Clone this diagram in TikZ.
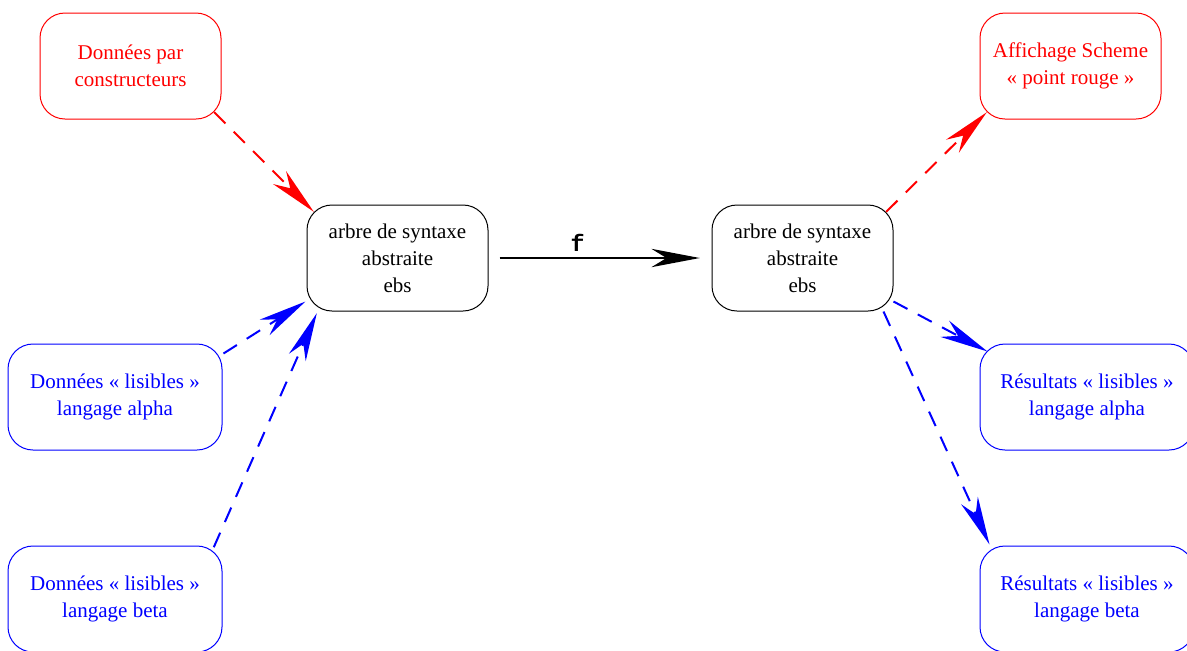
\documentclass[tikz,border=0pt]{standalone}
\usepackage{fontspec}
\setmainfont{Liberation Serif}
\setmonofont{Liberation Mono}
\usetikzlibrary{arrows.meta, calc}

\begin{document}
\begin{tikzpicture}[x=0.6pt, y=-0.6pt,
    box/.style={draw, line width=0.6pt, rounded corners=15pt, minimum width=108.6pt, minimum height=63.6pt, align=center, font=\fontsize{12.6}{16.2}\selectfont},
    widebox/.style={box, minimum width=128.4pt},
    flow/.style={-{Stealth[length=29pt, width=11pt, inset=9pt]}, line width=1.2pt, dash pattern=on 9.5pt off 7pt}]
    \useasboundingbox (0,0) rectangle (1187,650);
    \clip (0,0) rectangle (1187,650);

    % Central trees
    \node[box] (ebsL) at (397.5,258) {arbre de syntaxe\\abstraite\\ebs};
    \node[box] (ebsR) at (802.5,258) {arbre de syntaxe\\abstraite\\ebs};

    % Inputs
    \node[box, red] (donc) at (130.5,66) {Données par\\constructeurs};
    \node[widebox, blue] (lisA) at (115,397) {Données « lisibles »\\langage alpha};
    \node[widebox, blue] (lisB) at (115,599) {Données « lisibles »\\langage beta};

    % Outputs
    \node[box, red] (aff) at (1070.5,66) {Affichage Scheme\\« point rouge »};
    \node[widebox, blue] (resA) at (1087,397) {Résultats « lisibles »\\langage alpha};
    \node[widebox, blue] (resB) at (1087,599) {Résultats « lisibles »\\langage beta};

    % Transformation
    \draw[-{Stealth[length=29pt, width=11pt, inset=9pt]}, line width=1.2pt, shorten <=6.6pt, shorten >=7pt] (ebsL.east) -- node[above, pos=0.4, font=\ttfamily\bfseries\fontsize{14}{16}\selectfont] (lblf) {f} (ebsR.west);

    % Reading
    \draw[flow, red] ($(donc.south east)+(-7.3,-7.3)$) -- ($(ebsL.north west)+(7.3,7.3)$);
    \draw[flow, blue] ($(lisA.north east)+(1,10)$) -- ($(ebsL.south west)+(-1,-10)$);
    \draw[flow, blue] ($(lisB.north east)+(-8.7,1.7)$) -- ($(ebsL.south west)+(10.3,1.7)$);

    % Writing
    \draw[flow, red] ($(ebsR.north east)+(-7.3,7.3)$) -- ($(aff.south west)+(7.3,-7.3)$);
    \draw[flow, blue] ($(ebsR.south east)+(0,-10)$) -- ($(resA.north west)+(8,8)$);
    \draw[flow, blue] ($(ebsR.south east)+(-10,0)$) -- ($(resB.north west)+(10,-1)$);
\end{tikzpicture}
\end{document}
